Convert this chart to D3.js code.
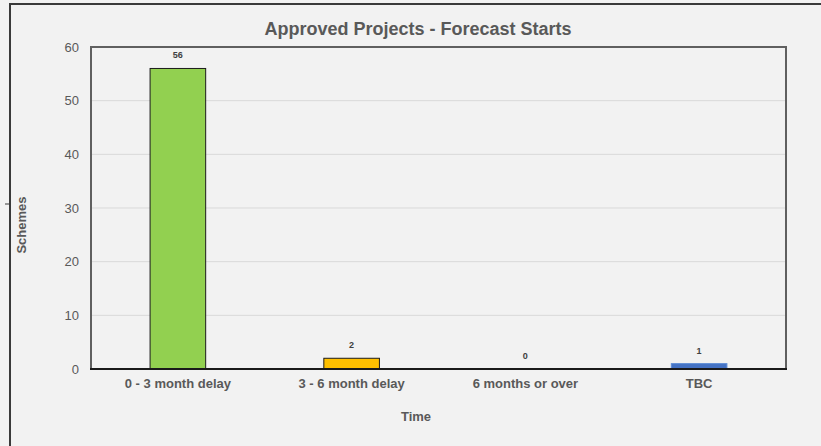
<!DOCTYPE html>
<html><head><meta charset="utf-8">
<script src="https://cdn.jsdelivr.net/npm/d3@7"></script>
<style>html,body{margin:0;padding:0;background:#f2f2f2;}svg{display:block;font-family:"Liberation Sans",Arial,sans-serif;}</style>
</head><body><svg id="c" width="821" height="446"></svg>
<script>
const categories = ["0 - 3 month delay","3 - 6 month delay","6 months or over","TBC"];
const values = [56, 2, 0, 1];
const colors = ["#92d050","#ffc000","#a5a5a5","#4472c4"];
const yTicks = [0,10,20,30,40,50,60];

const svg = d3.select("#c");
const W=821,H=446;
const m={l:91,t:47,r:786,b:369};
svg.append("rect").attr("width",W).attr("height",H).attr("fill","#f2f2f2");
// outer border (left + top)
svg.append("path").attr("d",`M10,${H} L10,4 L${W},4`).attr("fill","none").attr("stroke","#3a3a3a").attr("stroke-width",2);
svg.append("line").attr("x1",5).attr("x2",10).attr("y1",204).attr("y2",204).attr("stroke","#3a3a3a").attr("stroke-width",1);

const x=d3.scaleBand().domain(categories).range([m.l,m.r]).paddingInner(0.68).paddingOuter(0.34);
const y=d3.scaleLinear().domain([0,60]).range([m.b,m.t]);

// gridlines
svg.append("g").selectAll("line").data(yTicks.filter(d=>d>0&&d<60)).join("line")
  .attr("x1",m.l).attr("x2",m.r).attr("y1",d=>y(d)).attr("y2",d=>y(d))
  .attr("stroke","#d9d9d9").attr("stroke-width",1);

// y axis labels
const ya=svg.append("g").attr("transform",`translate(${m.l},0)`).call(d3.axisLeft(y).tickValues(yTicks).tickSize(0).tickPadding(12));
ya.select(".domain").remove();
ya.selectAll("text").attr("font-size",13).attr("fill","#595959").attr("font-family","Liberation Sans,Arial,sans-serif");

// plot frame
svg.append("path").attr("d",`M${m.l},${m.b} L${m.l},${m.t} L${m.r},${m.t} L${m.r},${m.b}`).attr("fill","none").attr("stroke","#606060").attr("stroke-width",2);

// bars
svg.append("g").selectAll("rect").data(values).join("rect")
  .attr("x",(d,i)=>x(categories[i])).attr("width",x.bandwidth())
  .attr("y",d=>y(d)).attr("height",d=>y(0)-y(d))
  .attr("fill",(d,i)=>colors[i])
  .attr("stroke",(d,i)=>i===3?"#5b8bd6":"#1a1a1a").attr("stroke-width",1)
  .attr("visibility",d=>d>0?"visible":"hidden");

// value labels
svg.append("g").selectAll("text").data(values).join("text")
  .attr("x",(d,i)=>x(categories[i])+x.bandwidth()/2).attr("y",d=>y(d)-10)
  .attr("text-anchor","middle").attr("font-size",9).attr("font-weight","bold").attr("fill","#404040")
  .text(d=>d);

// x axis
const xa=svg.append("g").attr("transform",`translate(0,${m.b})`).call(d3.axisBottom(x).tickSize(0).tickPadding(10));
xa.select(".domain").remove();
xa.selectAll("text").attr("font-size",13).attr("font-weight","bold").attr("fill","#595959").attr("font-family","Liberation Sans,Arial,sans-serif");
svg.append("line").attr("x1",m.l-1).attr("x2",m.r+1).attr("y1",m.b).attr("y2",m.b).attr("stroke","#1a1a1a").attr("stroke-width",2);

// titles
svg.append("text").attr("x",418).attr("y",35).attr("text-anchor","middle").attr("font-size",18).attr("font-weight","bold").attr("fill","#595959").text("Approved Projects - Forecast Starts");
svg.append("text").attr("x",416).attr("y",421).attr("text-anchor","middle").attr("font-size",13).attr("font-weight","bold").attr("fill","#595959").text("Time");
svg.append("text").attr("transform","translate(26,225) rotate(-90)").attr("text-anchor","middle").attr("font-size",13).attr("font-weight","bold").attr("fill","#595959").text("Schemes");
</script></body></html>
